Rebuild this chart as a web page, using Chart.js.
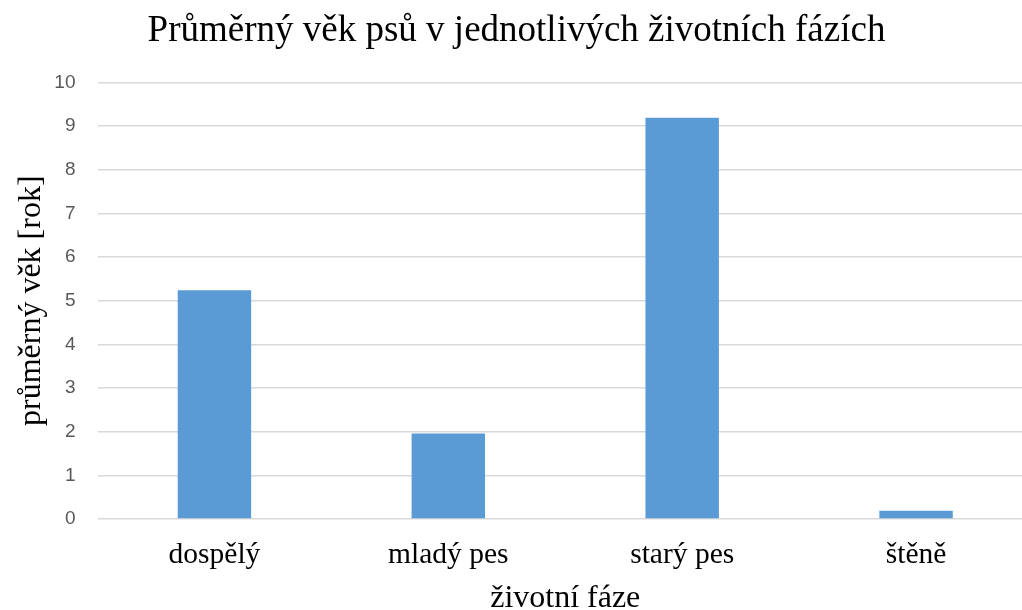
<!DOCTYPE html>
<html lang="cs">
<head>
<meta charset="utf-8">
<title>Průměrný věk psů</title>
<script src="https://cdn.jsdelivr.net/npm/chart.js@4/dist/chart.umd.min.js"></script>
<style>
  html, body { margin: 0; padding: 0; background: #fff; overflow: hidden; }
  #graf { position: absolute; left: 0; top: 0; }
</style>
</head>
<body>
<canvas id="graf" width="1040" height="610"></canvas>
<script>
// data
const fazeLabels = ['dospělý', 'mladý pes', 'starý pes', 'štěně'];
const prumernyVek = [5.24, 1.96, 9.19, 0.19];
const osaYMin = 0;
const osaYMax = 10;
const osaYKrok = 1;

const serif = '"Liberation Serif", "Times New Roman", serif';

document.addEventListener('DOMContentLoaded', function() {
    const ctx = document.getElementById('graf').getContext('2d');
    new Chart(ctx, {
        type: 'bar',
        data: {
            labels: fazeLabels,
            datasets: [{
                data: prumernyVek,
                backgroundColor: '#5b9bd5',
                borderWidth: 0,
                barPercentage: 0.314,
                categoryPercentage: 1
            }]
        },
        options: {
            responsive: false,
            animation: false,
            layout: { padding: { left: 0, right: 7, top: 0, bottom: 0 } },
            plugins: {
                legend: { display: false },
                tooltip: { enabled: false },
                title: {
                    display: true,
                    text: 'Průměrný věk psů v jednotlivých životních fázích',
                    color: '#000',
                    font: { family: serif, size: 37, weight: 'normal', lineHeight: 1.2 },
                    padding: { top: 9, bottom: 29 }
                }
            },
            scales: {
                x: {
                    grid: { display: false, drawTicks: false },
                    border: { display: false },
                    ticks: {
                        color: '#000',
                        padding: 19,
                        font: { family: serif, size: 29.5 }
                    },
                    title: {
                        display: true,
                        text: 'životní fáze',
                        color: '#000',
                        font: { family: serif, size: 32, lineHeight: 0.7 },
                        padding: { top: 0, bottom: 0 }
                    },
                    afterFit: function(scale) { scale.height = 91; }
                },
                y: {
                    min: osaYMin,
                    max: osaYMax,
                    grid: { color: '#d9d9d9', lineWidth: 1.5, drawTicks: false },
                    border: { display: false },
                    ticks: {
                        stepSize: osaYKrok,
                        color: '#595959',
                        padding: 22,
                        font: { family: '"Liberation Sans", Arial, sans-serif', size: 19 }
                    },
                    title: {
                        display: true,
                        text: 'průměrný věk [rok]',
                        color: '#000',
                        font: { family: serif, size: 32, lineHeight: 1.2 },
                        padding: { top: 12, bottom: 0 }
                    },
                    afterFit: function(scale) { scale.width = 97.5; }
                }
            }
        }
    });
});
</script>
</body>
</html>
